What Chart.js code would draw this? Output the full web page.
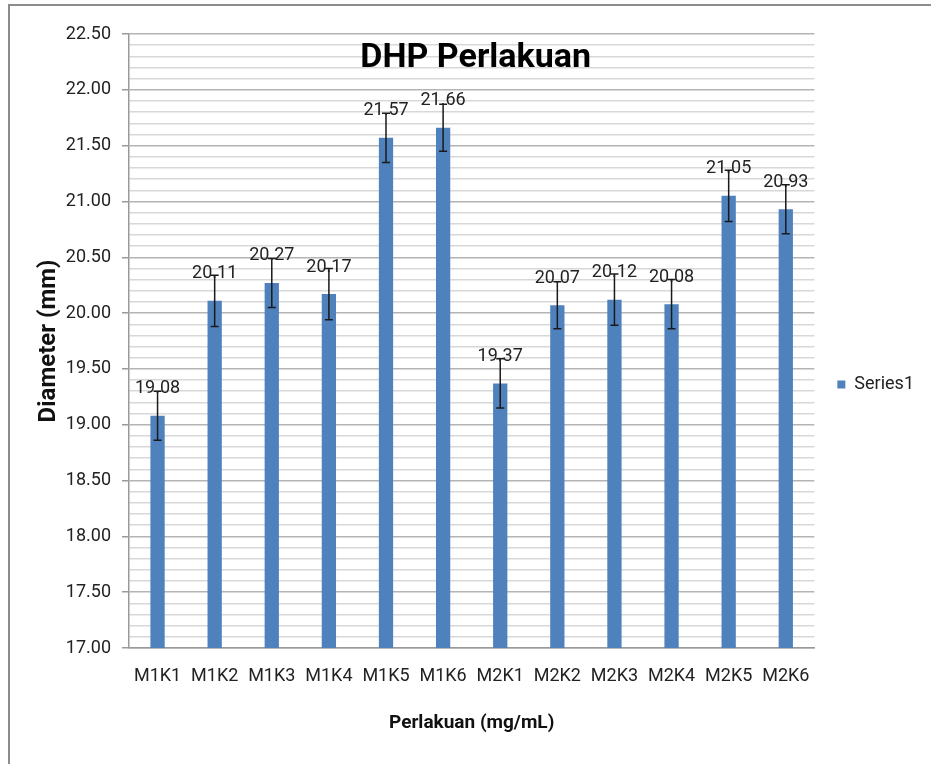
<!DOCTYPE html>
<html>
<head>
<meta charset="utf-8">
<script src="https://cdn.jsdelivr.net/npm/chart.js@4"></script>
<style>
  body { margin: 0; background: #fff; }
  #frame { position: absolute; left: 8px; top: 4px; width: 940px; height: 780px;
           border-top: 2px solid #8c8c8c; border-left: 2px solid #8c8c8c; }
  #wrap { position: absolute; left: 0; top: 0; width: 931px; height: 764px; }
</style>
</head>
<body>
<div id="frame"></div>
<div id="wrap"><canvas id="dataGraph"></canvas></div>
<script>
const labels = ['M1K1', 'M1K2', 'M1K3', 'M1K4', 'M1K5', 'M1K6',
                'M2K1', 'M2K2', 'M2K3', 'M2K4', 'M2K5', 'M2K6'];
const diameter = [19.08, 20.11, 20.27, 20.17, 21.57, 21.66,
                  19.37, 20.07, 20.12, 20.08, 21.05, 20.93];
const errors = [0.22, 0.23, 0.22, 0.23, 0.22, 0.21,
                0.22, 0.21, 0.23, 0.22, 0.23, 0.22];

const FONT = "Roboto, 'Open Sans', sans-serif";

function isMajor(v) {
    return Math.abs(v * 2 - Math.round(v * 2)) < 1e-6;
}

// error bars + value labels above each bar
const barExtras = {
    id: 'barExtras',
    afterDatasetsDraw(chart) {
        const ctx = chart.ctx;
        const y = chart.scales.y;
        const meta = chart.getDatasetMeta(0);
        ctx.save();
        meta.data.forEach((bar, i) => {
            const yTop = y.getPixelForValue(diameter[i] + errors[i]);
            const yBot = y.getPixelForValue(diameter[i] - errors[i]);
            ctx.strokeStyle = '#1a1a1a';
            ctx.lineWidth = 1.5;
            ctx.beginPath();
            ctx.moveTo(bar.x, yTop); ctx.lineTo(bar.x, yBot);
            ctx.moveTo(bar.x - 4, yTop); ctx.lineTo(bar.x + 4, yTop);
            ctx.moveTo(bar.x - 4, yBot); ctx.lineTo(bar.x + 4, yBot);
            ctx.stroke();
        });
        ctx.fillStyle = '#222';
        ctx.font = '18px ' + FONT;
        ctx.textAlign = 'center';
        ctx.textBaseline = 'middle';
        meta.data.forEach((bar, i) => {
            ctx.fillText(diameter[i].toFixed(2), bar.x, bar.y - 27);
        });
        // chart title sits over the plot area like in Excel
        const a = chart.chartArea;
        ctx.fillStyle = '#000';
        ctx.font = 'bold 34px ' + FONT;
        ctx.fillText('DHP Perlakuan', (a.left + a.right) / 2 + 4, a.top + 24);
        ctx.restore();
    }
};

window.onload = function() {
    const ctx = document.getElementById('dataGraph').getContext('2d');
    new Chart(ctx, {
        type: 'bar',
        data: {
            labels: labels,
            datasets: [{
                label: 'Series1',
                data: diameter,
                backgroundColor: '#4f81bd',
                borderWidth: 0,
                barPercentage: 0.25,
                categoryPercentage: 1
            }]
        },
        options: {
            responsive: true,
            maintainAspectRatio: false,
            animation: false,
            layout: { padding: { left: 35, top: 34, right: 7, bottom: 29 } },
            plugins: {
                legend: {
                    position: 'right',
                    labels: {
                        boxWidth: 8, boxHeight: 8, padding: 23,
                        color: '#222',
                        font: { family: FONT, size: 18 }
                    }
                },
                tooltip: { enabled: false }
            },
            scales: {
                x: {
                    grid: { display: false, drawTicks: false },
                    border: { display: true, color: '#9a9a9a', width: 1.5 },
                    ticks: { color: '#222', padding: 18, maxRotation: 0, autoSkip: false,
                             font: { family: FONT, size: 18 } },
                    title: { display: true, text: 'Perlakuan (mg/mL)', color: '#111',
                             padding: 0, font: { family: FONT, size: 19, weight: 'bold' } },
                    afterFit(scale) { scale.height = 87; }
                },
                y: {
                    min: 17,
                    max: 22.5,
                    ticks: {
                        stepSize: 0.1,
                        autoSkip: false,
                        padding: 11,
                        color: '#222',
                        font: { family: FONT, size: 18 },
                        callback: (v) => isMajor(v) ? Number(v).toFixed(2) : ''
                    },
                    grid: {
                        tickLength: 7,
                        color: (c) => isMajor(c.tick.value) ? '#b4b4b4' : '#d8d8d8',
                        tickColor: (c) => isMajor(c.tick.value) ? '#9a9a9a' : 'rgba(0,0,0,0)',
                        lineWidth: 1.5
                    },
                    border: { display: true, color: '#9a9a9a', width: 1.5 },
                    title: { display: true, text: 'Diameter (mm)', color: '#111',
                             padding: 0, font: { family: FONT, size: 24, weight: 'bold' } },
                    afterFit(scale) { scale.width = 94; }
                }
            }
        },
        plugins: [barExtras]
    });
};
</script>
</body>
</html>
